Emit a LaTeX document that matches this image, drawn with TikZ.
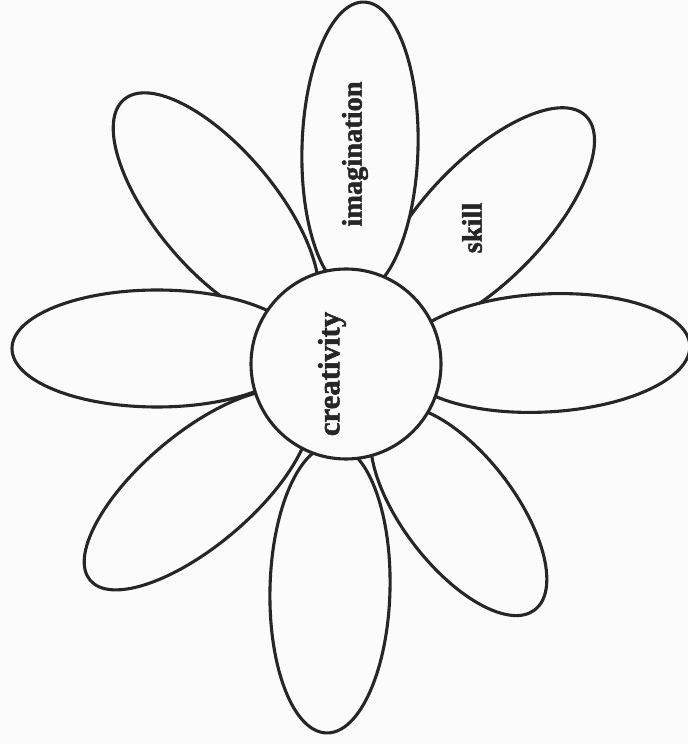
\documentclass[tikz,border=0pt]{standalone}
\usepackage{fontspec}
\setmainfont{Liberation Serif}
\newfontfamily\heavyserif{Liberation Serif Bold}[FakeBold=1.6]
\definecolor{ink}{HTML}{262626}
\definecolor{paper}{HTML}{FBFBFB}
\begin{document}
\begin{tikzpicture}[x=0.5pt,y=0.5pt,
  petal/.style={draw=ink, line width=1.55pt, fill=paper},
  heart/.style={circle, draw=ink, line width=1.55pt, fill=paper, minimum size=95pt, inner sep=0pt},
  lbl/.style={font=\heavyserif\fontsize{14.2}{16}\selectfont, text=ink, rotate=90, inner sep=0pt},
  biglbl/.style={lbl, font=\heavyserif\fontsize{15.4}{17}\selectfont}]
\fill[paper] (0,0) rectangle (688,744);
\useasboundingbox (0,0) rectangle (688,744);
% diagonal petals (underneath)
\draw[petal, rotate around={46:(484.9,523.9)}] (484.9,523.9) ellipse [x radius=145, y radius=60];
\draw[petal, rotate around={130:(216,535)}] (216,535) ellipse [x radius=143, y radius=60];
\draw[petal, rotate around={220.2:(197.1,254.1)}] (197.1,254.1) ellipse [x radius=140, y radius=56];
\draw[petal, rotate around={-52.5:(458.7,233.3)}] (458.7,233.3) ellipse [x radius=125, y radius=56];
% cardinal petals (on top)
\draw[petal, rotate around={88.4:(360,596)}] (360,596) ellipse [x radius=146, y radius=58];
\draw[petal, rotate around={3:(545,391)}] (545,391) ellipse [x radius=145, y radius=59];
\draw[petal, rotate around={88.6:(330,155)}] (330,155) ellipse [x radius=144, y radius=60];
\draw[petal] (157,395.5) ellipse [x radius=145, y radius=58.5];
% centre
\node[heart] (centre) at (346,380) {};
\node[biglbl] (creativity) at (332,370) {creativity};
\node[lbl] (imagination) at (355,590) {imagination};
\node[lbl] (skill) at (472,516) {skill};
\end{tikzpicture}
\end{document}
